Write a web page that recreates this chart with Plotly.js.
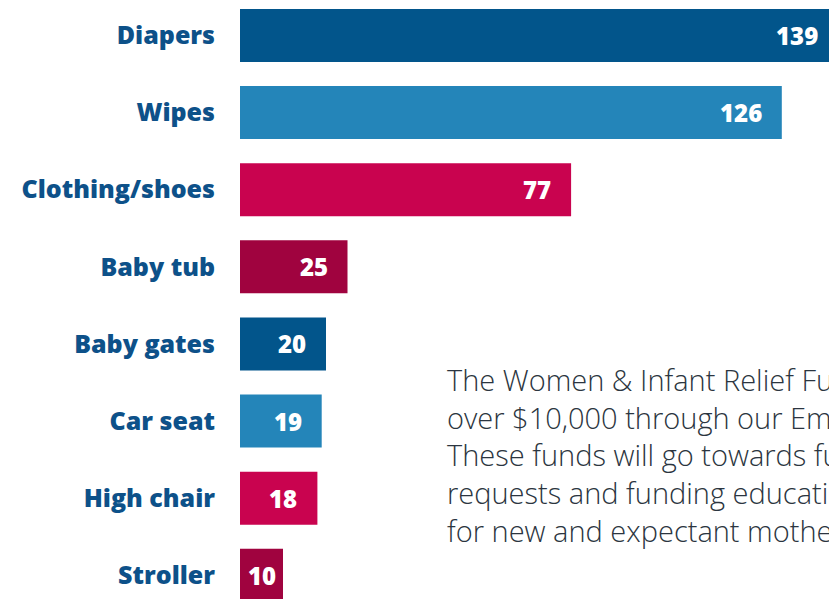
<!DOCTYPE html>
<html>
<head>
<meta charset="utf-8">
<script src="https://cdn.plot.ly/plotly-3.0.1.min.js"></script>
<style>
html,body{margin:0;padding:0;overflow:hidden;background:#fff;width:829px;height:599px;}
#chart{width:860px;height:617px;}
</style>
</head>
<body>
<div id="chart"></div>
<script>
const categories = ["Diapers","Wipes","Clothing/shoes","Baby tub","Baby gates","Car seat","High chair","Stroller"];
const values = [139,126,77,25,20,19,18,10];
const barColors = ["#02558b","#2485b9","#c9034f","#a0033f","#02558b","#2485b9","#c9034f","#a0033f"];
const labelPad = [-18,-18,-18,-18,-18,-18,-18,-5];
const noteLines = [
  "The Women &amp; Infant Relief Fund raised",
  "over $10,000 through our Employee Giving Campaign.",
  "These funds will go towards fulfilling",
  "requests and funding educational classes",
  "for new and expectant mothers."
];

const trace = {
  type: "bar",
  orientation: "h",
  y: categories,
  x: values,
  marker: {color: barColors},
  hoverinfo: "none"
};

const W = 860, H = 617, ML = 240;
const pw = W - ML, ph = H;

const annotations = values.map((v, i) => ({
  x: v, y: categories[i], xref: "x", yref: "y",
  text: String(v), showarrow: false,
  xanchor: "right", yanchor: "middle", xshift: labelPad[i],
  font: {family: "Open Sans", size: 24, color: "#ffffff", weight: 800}
}));
annotations.push({
  x: (445 - ML) / pw, y: 1 - 358 / ph, xref: "paper", yref: "paper",
  text: noteLines.join("<br>"), showarrow: false,
  xanchor: "left", yanchor: "top", align: "left",
  font: {family: "Open Sans", size: 29, color: "#2b3540", weight: 300}
});

const layout = {
  width: W, height: H,
  margin: {l: ML, r: 0, t: 0, b: 0, pad: 0},
  paper_bgcolor: "#ffffff", plot_bgcolor: "#ffffff",
  bargap: 0.313,
  showlegend: false,
  xaxis: {range: [0, pw / 4.3], visible: false, fixedrange: true},
  yaxis: {
    type: "category", categoryorder: "array", categoryarray: categories,
    range: [7.54, -0.46],
    showgrid: false, zeroline: false, showline: false, ticks: "",
    ticklabelstandoff: 24,
    tickfont: {family: "Open Sans", size: 25, color: "#0d5189", weight: 800},
    fixedrange: true
  },
  annotations: annotations
};

Plotly.newPlot("chart", [trace], layout, {displayModeBar: false, staticPlot: true});
</script>
</body>
</html>
